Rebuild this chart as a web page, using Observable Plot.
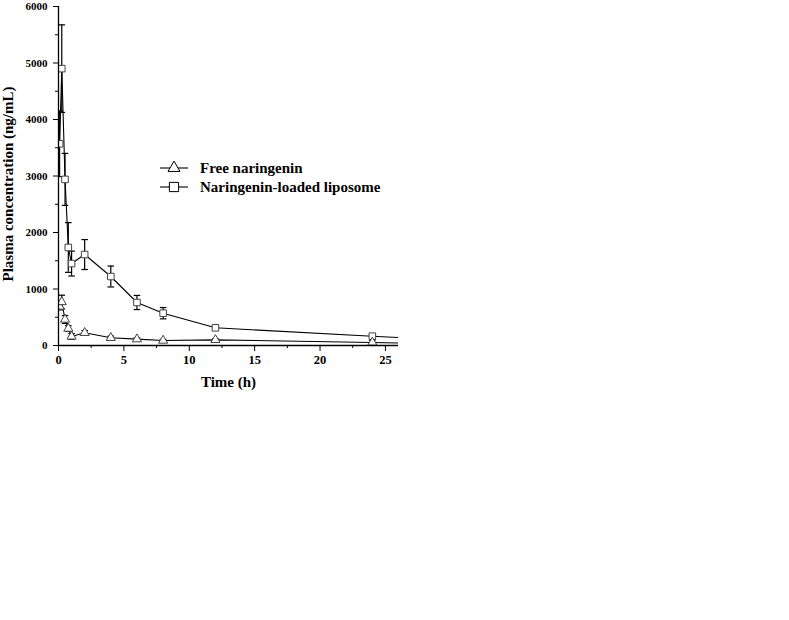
<!DOCTYPE html>
<html><head><meta charset="utf-8">
<script src="https://cdn.jsdelivr.net/npm/d3@7"></script>
<script src="https://cdn.jsdelivr.net/npm/@observablehq/plot@0.6"></script>
<style>
body{margin:0;background:#fff;}
#wrap{position:relative;width:789px;height:620px;}
#legend{position:absolute;left:0;top:0;}
</style></head><body><div id="wrap"></div>
<script>
// Sampling times (h); last point lies beyond the visible axis and is clipped
const times = [0.083, 0.25, 0.5, 0.75, 1, 2, 4, 6, 8, 12, 24, 36];
const freeMean = [690, 770, 460, 300, 160, 225, 136, 112, 88, 100, 53, 5];
const freeSD   = [60, 120, 70, 50, 50, 40, 30, 25, 20, 20, 40, 0];
const lipoMean = [3570, 4900, 2940, 1735, 1450, 1610, 1221, 761, 572, 313, 165, 27];
const lipoSD   = [580, 775, 460, 440, 220, 265, 185, 125, 100, 30, 45, 0];
const seriesNames = ["Free naringenin", "Naringenin-loaded liposome"];
const xTicks = [0, 5, 10, 15, 20, 25];
const xMinor = [2.5, 7.5, 12.5, 17.5, 22.5];
const yTicks = [0, 1000, 2000, 3000, 4000, 5000, 6000];
const yMinor = [500, 1500, 2500, 3500, 4500, 5500];
const xLabel = "Time (h)";
const yLabel = "Plasma concentration (ng/mL)";

const free = times.map((t, i) => ({t, v: freeMean[i], e: freeSD[i]}));
const lipo = times.map((t, i) => ({t, v: lipoMean[i], e: lipoSD[i]}));

const cap = {draw(ctx) { ctx.moveTo(-3.3, 0); ctx.lineTo(3.3, 0); }};
const font = "Liberation Serif, Times New Roman, serif";

function errMarks(data) {
  return [
    Plot.ruleX(data, {x: "t", y1: d => d.v - d.e, y2: d => d.v + d.e, stroke: "#000", strokeWidth: 1.2, clip: true}),
    Plot.dot(data, {x: "t", y: d => d.v + d.e, symbol: cap, stroke: "#000", strokeWidth: 1.2, r: 3, clip: true}),
    Plot.dot(data, {x: "t", y: d => d.v - d.e, symbol: cap, stroke: "#000", strokeWidth: 1.2, r: 3, clip: true})
  ];
}

const chart = Plot.plot({
  width: 789,
  height: 620,
  marginLeft: 58,
  marginRight: 391,
  marginTop: 6,
  marginBottom: 275,
  style: {fontFamily: font, fontWeight: "bold", fontSize: "12px", color: "#000", background: "#fff"},
  x: {domain: [0, 26], label: null},
  y: {domain: [0, 6000], label: null},
  marks: [
    ...errMarks(lipo),
    ...errMarks(free),
    Plot.line(lipo, {x: "t", y: "v", stroke: "#000", strokeWidth: 1.1, clip: true}),
    Plot.line(free, {x: "t", y: "v", stroke: "#000", strokeWidth: 1.1, clip: true}),
    Plot.dot(lipo, {x: "t", y: "v", symbol: "square", r: 3.7, fill: "#fff", stroke: "#444", strokeWidth: 1, clip: true}),
    Plot.dot(free, {x: "t", y: "v", symbol: "triangle", r: 3.4, fill: "#fff", stroke: "#444", strokeWidth: 1, clip: true}),
    Plot.ruleX([0], {stroke: "#000", strokeWidth: 1.3}),
    Plot.ruleY([0], {stroke: "#000", strokeWidth: 1.3}),
    Plot.axisX({ticks: xTicks, tickSize: 6, tickPadding: 4, fontSize: 12.5, tickFormat: d3.format("d"), label: null}),
    Plot.axisX({ticks: xMinor, tickSize: 3, tickFormat: () => "", label: null}),
    Plot.axisY({ticks: yTicks, tickSize: 5, tickPadding: 6, fontSize: 11, tickFormat: d3.format("d"), label: null}),
    Plot.axisY({ticks: yMinor, tickSize: 3, tickFormat: () => "", label: null}),
    Plot.text([xLabel], {frameAnchor: "bottom", dy: 41, fontSize: 15, fontWeight: "bold"}),
    Plot.text([yLabel], {frameAnchor: "left", textAnchor: "middle", dx: -50.5, dy: 8, rotate: -90, fontSize: 15, fontWeight: "bold"})
  ]
});

const wrap = document.getElementById("wrap");
wrap.appendChild(chart);

// Legend (inside the plot area, as in the reference)
const leg = d3.create("svg").attr("id", "legend").attr("width", 789).attr("height", 620)
  .style("pointer-events", "none");
const rows = [
  {name: seriesNames[0], y: 168, sym: d3.symbolTriangle},
  {name: seriesNames[1], y: 187, sym: d3.symbolSquare}
];
rows.forEach(r => {
  leg.append("line").attr("x1", 160).attr("x2", 188).attr("y1", r.y).attr("y2", r.y)
    .attr("stroke", "#000").attr("stroke-width", 1.1);
  leg.append("path").attr("d", d3.symbol(r.sym, r.sym === d3.symbolSquare ? 85 : 62)())
    .attr("transform", `translate(174,${r.y})`).attr("fill", "#fff").attr("stroke", "#000").attr("stroke-width", 1);
  leg.append("text").attr("x", 200).attr("y", r.y + 5).text(r.name)
    .attr("font-family", font).attr("font-weight", "bold").attr("font-size", 15).attr("fill", "#000");
});
wrap.appendChild(leg.node());
</script>
</body></html>
